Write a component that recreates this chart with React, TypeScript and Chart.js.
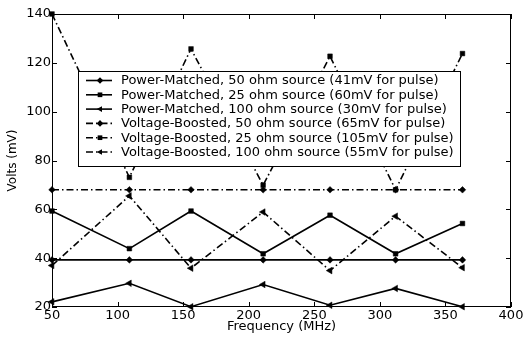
import React, { useEffect, useRef } from "react";
import { Chart, registerables } from "chart.js";

Chart.register(...registerables);

// ---- data ----
const frequencies = [50, 109, 156, 211, 262, 312, 363];
const pm50 = [39.3, 39.3, 39.3, 39.3, 39.3, 39.3, 39.3];
const pm25 = [59.3, 43.9, 59.3, 41.8, 57.6, 41.8, 54.2];
const pm100 = [22.1, 29.7, 20.1, 29.2, 20.7, 27.6, 20.1];
const vb50 = [68, 68, 68, 68, 68, 68, 68];
const vb25 = [140, 73.1, 125.7, 69.9, 122.7, 68, 123.8];
const vb100 = [37, 65.5, 35.9, 58.9, 34.9, 57.2, 36.1];
const seriesLabels = [
  "Power-Matched, 50 ohm source (41mV for pulse)",
  "Power-Matched, 25 ohm source (60mV for pulse)",
  "Power-Matched, 100 ohm source (30mV for pulse)",
  "Voltage-Boosted, 50 ohm source (65mV for pulse)",
  "Voltage-Boosted, 25 ohm source (105mV for pulse)",
  "Voltage-Boosted, 100 ohm source (55mV for pulse)",
];
const xTickValues = [50, 100, 150, 200, 250, 300, 350, 400];
const yTickValues = [20, 40, 60, 80, 100, 120, 140];
const xTitle = "Frequency (MHz)";
const yTitle = "Volts (mV)";

const FONT = "'DejaVu Sans', sans-serif";
const DASHDOT = [7, 3, 1.5, 3];

function drawMarker(ctx: CanvasRenderingContext2D, style: string, x: number, y: number, r: number) {
  ctx.beginPath();
  if (style === "rectRot") {
    ctx.moveTo(x, y - r);
    ctx.lineTo(x + r, y);
    ctx.lineTo(x, y + r);
    ctx.lineTo(x - r, y);
    ctx.closePath();
  } else if (style === "rect") {
    const s = r * Math.SQRT1_2;
    ctx.rect(x - s, y - s, 2 * s, 2 * s);
  } else {
    ctx.moveTo(x - r, y);
    ctx.lineTo(x + r * 0.6, y - r * 0.85);
    ctx.lineTo(x + r * 0.6, y + r * 0.85);
    ctx.closePath();
  }
  ctx.fill();
}

const frameTicksPlugin = {
  id: "frameTicks",
  afterDraw(chart: any) {
    const { ctx, chartArea } = chart;
    const { left, right, top, bottom } = chartArea;
    const xs = chart.scales.x;
    const ys = chart.scales.y;
    const len = 5;
    ctx.save();
    ctx.strokeStyle = "#000";
    ctx.lineWidth = 1;
    ctx.setLineDash([]);
    ctx.strokeRect(left + 0.5, top + 0.5, right - left - 1, bottom - top - 1);
    ctx.beginPath();
    xTickValues.forEach((v) => {
      const px = Math.round(xs.getPixelForValue(v)) + 0.5;
      ctx.moveTo(px, bottom);
      ctx.lineTo(px, bottom - len);
      ctx.moveTo(px, top);
      ctx.lineTo(px, top + len);
    });
    yTickValues.forEach((v) => {
      const py = Math.round(ys.getPixelForValue(v)) + 0.5;
      ctx.moveTo(left, py);
      ctx.lineTo(left + len, py);
      ctx.moveTo(right, py);
      ctx.lineTo(right - len, py);
    });
    ctx.stroke();
    ctx.restore();
  },
};

const boxLegendPlugin = {
  id: "boxLegend",
  afterDraw(chart: any) {
    const { ctx, chartArea } = chart;
    const bx = chartArea.left + 26;
    const by = chartArea.top + 57;
    const bw = 382;
    const rowH = 14.3;
    const bh = 95;
    ctx.save();
    ctx.fillStyle = "#fff";
    ctx.fillRect(bx, by, bw, bh);
    ctx.strokeStyle = "#000";
    ctx.lineWidth = 1;
    ctx.strokeRect(bx + 0.5, by + 0.5, bw, bh);
    ctx.font = `13px ${FONT}`;
    ctx.textBaseline = "middle";
    ctx.textAlign = "left";
    chart.data.datasets.forEach((ds: any, i: number) => {
      const y = by + 9.5 + i * rowH;
      ctx.strokeStyle = "#000";
      ctx.fillStyle = "#000";
      ctx.lineWidth = ds.borderWidth;
      ctx.setLineDash(ds.borderDash || []);
      ctx.beginPath();
      ctx.moveTo(bx + 8, y);
      ctx.lineTo(bx + 34, y);
      ctx.stroke();
      ctx.setLineDash([]);
      drawMarker(ctx, ds.pointStyle === "triangle" ? "triLeft" : ds.pointStyle, bx + 22, y, 3.3);
      ctx.fillText(ds.label, bx + 43, y + 0.5);
    });
    ctx.restore();
  },
};

export default function App() {
  const canvasRef = useRef<HTMLCanvasElement | null>(null);

  useEffect(() => {
    if (!canvasRef.current) return;
    const mk = (label: string, data: number[], style: string, dashed: boolean) => ({
      label,
      data: data.map((v, i) => ({ x: frequencies[i], y: v })),
      borderColor: "#000",
      backgroundColor: "#000",
      borderWidth: 1.6,
      borderDash: dashed ? DASHDOT : [],
      pointStyle: style,
      pointRotation: style === "triangle" ? -90 : 0,
      pointRadius: style === "triangle" ? 3.8 : 3.3,
      pointBorderWidth: 0.5,
      pointBackgroundColor: "#000",
      pointBorderColor: "#000",
      tension: 0,
      fill: false,
      clip: false as any,
    });
    const chart = new Chart(canvasRef.current, {
      type: "line",
      data: {
        datasets: [
          mk(seriesLabels[0], pm50, "rectRot", false),
          mk(seriesLabels[1], pm25, "rect", false),
          mk(seriesLabels[2], pm100, "triangle", false),
          mk(seriesLabels[3], vb50, "rectRot", true),
          mk(seriesLabels[4], vb25, "rect", true),
          mk(seriesLabels[5], vb100, "triangle", true),
        ],
      },
      options: {
        animation: false,
        responsive: false,
        layout: { padding: { left: 0, top: 14, right: 15, bottom: 0 } },
        plugins: { legend: { display: false }, tooltip: { enabled: false } },
        scales: {
          x: {
            type: "linear",
            min: 50,
            max: 400,
            afterBuildTicks: (s: any) => {
              s.ticks = xTickValues.map((v) => ({ value: v }));
            },
            afterFit: (s: any) => {
              s.height = 30;
            },
            grid: { display: false, drawTicks: false },
            border: { display: false },
            ticks: { color: "#000", font: { family: FONT, size: 13 }, padding: 1, maxRotation: 0 },
            title: { display: true, text: xTitle, color: "#000", font: { family: FONT, size: 13 }, padding: { top: 0, bottom: 3 } },
          },
          y: {
            type: "linear",
            min: 20,
            max: 140,
            afterBuildTicks: (s: any) => {
              s.ticks = yTickValues.map((v) => ({ value: v }));
            },
            afterFit: (s: any) => {
              s.width = 52;
            },
            grid: { display: false, drawTicks: false },
            border: { display: false },
            ticks: { color: "#000", font: { family: FONT, size: 13 }, padding: 1 },
            title: { display: true, text: yTitle, color: "#000", font: { family: FONT, size: 12 }, padding: { top: 6, bottom: 0 } },
          },
        },
      },
      plugins: [frameTicksPlugin, boxLegendPlugin],
    } as any);
    return () => chart.destroy();
  }, []);

  return (
    <div style={{ position: "fixed", left: 0, top: 0, width: 526, height: 337, background: "#fff" }}>
      <canvas ref={canvasRef} width={526} height={337} style={{ width: 526, height: 337 }} />
    </div>
  );
}
